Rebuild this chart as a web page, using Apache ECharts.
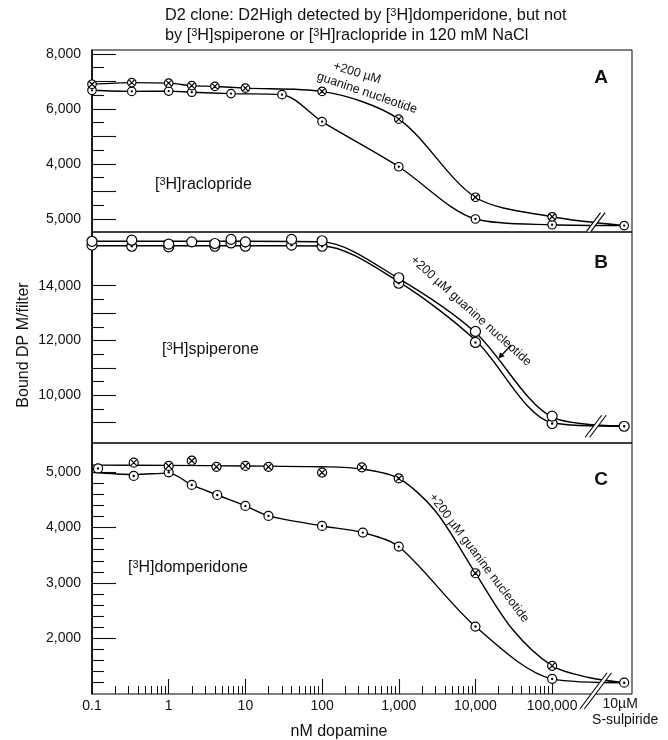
<!DOCTYPE html>
<html><head><meta charset="utf-8">
<script src="https://cdn.jsdelivr.net/npm/echarts@6/dist/echarts.min.js"></script>
<style>html,body{margin:0;padding:0;background:#fff}#c{width:668px;height:740px}</style>
</head><body><div id="c"></div>
<script>
const FONT = '"Liberation Sans", Arial, Helvetica, sans-serif';

// x position used for the "10 µM S-sulpiride" column (right of the axis break)
const SULP = 8.7e5;
const BREAK_X = 3.7e5;

// ---- Panel A: [3H]raclopride (measured points; curves drawn through them) ----
const aGuanX = [0.1, 0.33, 1, 2, 4, 10, 100, 1000, 10000, 100000];
const aGuanY = [6900, 6960, 6940, 6850, 6820, 6760, 6640, 5630, 2790, 2080];
const aCtrlX = [0.1, 0.33, 1, 2, 6.5, 30, 100, 1000, 10000, 100000, SULP];
const aCtrlY = [6680, 6640, 6650, 6610, 6560, 6520, 5540, 3900, 2000, 1790, 1760];

// ---- Panel B: [3H]spiperone ----
const bOpenX = [0.1, 0.33, 1, 2, 4, 6.5, 10, 40, 100, 1000, 10000, 100000];
const bOpenY = [15620, 15660, 15520, 15600, 15540, 15690, 15600, 15690, 15640, 14290, 12330, 9240];
const bDotX = [0.1, 0.33, 1, 4, 6.5, 10, 40, 100, 1000, 10000, 100000, SULP];
const bDotY = [15480, 15440, 15420, 15440, 15560, 15440, 15480, 15440, 14090, 11930, 8970, 8870];
// fitted curves as drawn in the figure
const bOpenFitX = [0.1, 1, 10, 100, 1000, 10000, 100000, SULP];
const bOpenFitY = [15620, 15620, 15620, 15600, 14260, 12290, 9200, 8880];
const bDotFitX = [0.1, 1, 10, 100, 1000, 10000, 100000, SULP];
const bDotFitY = [15460, 15460, 15460, 15450, 14140, 12010, 9000, 8870];

// ---- Panel C: [3H]domperidone ----
const cGuanX = [0.35, 1, 2, 4.2, 10, 20, 100, 330, 1000, 10000, 100000];
const cGuanY = [5175, 5115, 5210, 5100, 5115, 5100, 4995, 5090, 4890, 3175, 1500];
const cCtrlX = [0.12, 0.35, 1, 2, 4.3, 10, 20, 100, 340, 1000, 10000, 100000, SULP];
const cCtrlY = [5070, 4934, 5000, 4771, 4590, 4392, 4211, 4030, 3910, 3657, 2211, 1265, 1195];
// fitted curves as drawn in the figure
const cGuanFitX = [0.1, 1, 10, 100, 330, 1000, 3000, 10000, 30000, 100000, 300000, SULP];
const cGuanFitY = [5130, 5125, 5115, 5100, 5060, 4890, 4300, 3175, 2170, 1500, 1290, 1195];
const cCtrlFitX = [0.1, 0.35, 1, 2, 4.3, 10, 20, 100, 340, 1000, 10000, 100000, SULP];
const cCtrlFitY = [5000, 4960, 4985, 4771, 4590, 4392, 4211, 4030, 3910, 3657, 2211, 1265, 1195];

// ---- tick values / labels ----
const aMajorTicks = [2000, 3000, 4000, 5000, 6000, 7000, 8000];
const aMinorTicks = [2500, 3500, 4500, 5500, 6500, 7500];
const aLabelVals = [2000, 4000, 6000, 8000];
const aLabelText = ['5,000', '4,000', '6,000', '8,000']; // as printed in the figure

const bMajorTicks = [9000, 10000, 11000, 12000, 13000, 14000];
const bMinorTicks = [9500, 10500, 11500, 12500, 13500];
const bLabelVals = [10000, 12000, 14000];
const bLabelText = ['10,000', '12,000', '14,000'];

const cMajorTicks = [2000, 3000, 4000, 5000];
const cMinorTicks = [1200, 1400, 1600, 1800, 2200, 2400, 2600, 2800, 3200, 3400, 3600, 3800, 4200, 4400, 4600, 4800];
const cLabelVals = [2000, 3000, 4000, 5000];
const cLabelText = ['2,000', '3,000', '4,000', '5,000'];

const xMajorTicks = [1, 10, 100, 1000, 10000, 100000];
const xLabelVals = [0.1, 1, 10, 100, 1000, 10000, 100000];
const xLabelText = ['0.1', '1', '10', '100', '1,000', '10,000', '100,000'];
const xDecades = [0.1, 1, 10, 100, 1000, 10000];
const xMinorMult = [2, 3, 4, 5, 6, 7, 8, 9];
const xMinorTicks = [];
xDecades.forEach(d => xMinorMult.forEach(m => xMinorTicks.push(d * m)));

const SYM_X = 'path://M10,0A10,10,0,1,1,10,20A10,10,0,1,1,10,0ZM2.93,2.93L17.07,17.07M17.07,2.93L2.93,17.07';
const SYM_DOT = 'path://M10,0A10,10,0,1,1,10,20A10,10,0,1,1,10,0ZM10,8.7A1.3,1.3,0,1,1,10,11.3A1.3,1.3,0,1,1,10,8.7Z';

const grids = [
  {left: 92, top: 50, width: 540, height: 182},
  {left: 92, top: 232, width: 540, height: 211},
  {left: 92, top: 443, width: 540, height: 251}
];
const symSizes = [8.5, 10, 9];
const yRanges = [[1527, 8145], [8259, 15960], [991, 5530]];
const X_MIN = 0.1, X_MAX = 1.1e6;

function pick(vals, texts) {
  return v => {
    for (let i = 0; i < vals.length; i++) {
      if (Math.abs(vals[i] - v) < 1e-6 * Math.max(1, Math.abs(vals[i]))) return texts[i];
    }
    return '';
  };
}

function yAxesFor(gi, major, minor, labVals, labText) {
  const base = {
    type: 'value', gridIndex: gi, position: 'left',
    min: yRanges[gi][0], max: yRanges[gi][1],
    splitLine: {show: false}
  };
  return [
    Object.assign({}, base, {
      axisLine: {show: true, lineStyle: {color: '#000', width: 1.6}},
      axisTick: {show: true, inside: true, length: 24, customValues: major, lineStyle: {color: '#111', width: 1.1}},
      axisLabel: {show: true, customValues: labVals, formatter: pick(labVals, labText),
        fontSize: 14, fontFamily: FONT, color: '#111', margin: 11}
    }),
    Object.assign({}, base, {
      axisLine: {show: false},
      axisTick: {show: true, inside: true, length: 12, customValues: minor, lineStyle: {color: '#111', width: 1.1}},
      axisLabel: {show: false}
    })
  ];
}

const hiddenX = gi => ({
  type: 'log', logBase: 10, gridIndex: gi, min: X_MIN, max: X_MAX, position: 'bottom',
  axisLine: {show: false}, axisTick: {show: false}, axisLabel: {show: false}, splitLine: {show: false}
});

const xAxes = [
  hiddenX(0),
  hiddenX(1),
  Object.assign(hiddenX(2), {
    axisTick: {show: true, inside: true, length: 15, customValues: xMajorTicks, lineStyle: {color: '#111', width: 1.1}},
    axisLabel: {show: true, customValues: xLabelVals, formatter: pick(xLabelVals, xLabelText),
      fontSize: 14, fontFamily: FONT, color: '#111', margin: 5}
  }),
  Object.assign(hiddenX(2), {
    axisTick: {show: true, inside: true, length: 8, customValues: xMinorTicks, lineStyle: {color: '#111', width: 1}}
  })
];

const yAxes = [].concat(
  yAxesFor(0, aMajorTicks, aMinorTicks, aLabelVals, aLabelText),
  yAxesFor(1, bMajorTicks, bMinorTicks, bLabelVals, bLabelText),
  yAxesFor(2, cMajorTicks, cMinorTicks, cLabelVals, cLabelText)
);

function pts(xs, ys) { return xs.map((x, i) => [x, ys[i]]); }
const lastOf = a => a[a.length - 1];

function line(gi, data) {
  return {
    type: 'line', xAxisIndex: gi, yAxisIndex: gi * 2, data: data,
    smooth: 0.3, showSymbol: false, symbol: 'none', clip: false, z: 3, silent: true,
    lineStyle: {color: '#000', width: 1.4}, emphasis: {disabled: true}
  };
}
function marks(gi, data, symbol, z) {
  return {
    type: 'scatter', xAxisIndex: gi, yAxisIndex: gi * 2, data: data,
    symbol: symbol, symbolSize: symSizes[gi], clip: false, z: z, silent: true,
    itemStyle: {color: '#fff', borderColor: '#000', borderWidth: 1.2, opacity: 1},
    emphasis: {disabled: true}
  };
}

const series = [
  // panel A
  line(0, pts(aCtrlX, aCtrlY)),
  line(0, pts(aGuanX, aGuanY).concat([[SULP, lastOf(aCtrlY)]])),
  marks(0, pts(aCtrlX, aCtrlY), SYM_DOT, 5),
  marks(0, pts(aGuanX, aGuanY), SYM_X, 6),
  // panel B
  line(1, pts(bDotFitX, bDotFitY)),
  line(1, pts(bOpenFitX, bOpenFitY)),
  marks(1, pts(bDotX, bDotY), SYM_DOT, 5),
  marks(1, pts(bOpenX, bOpenY), 'circle', 6),
  // panel C
  line(2, pts(cCtrlFitX, cCtrlFitY)),
  line(2, pts(cGuanFitX, cGuanFitY)),
  marks(2, pts(cCtrlX, cCtrlY), SYM_DOT, 5),
  marks(2, pts(cGuanX, cGuanY), SYM_X, 6)
];

const SUP = {fontSize: 11, lineHeight: 12, padding: [0, 0, 7, 0], fontFamily: FONT, fill: '#111', color: '#111'};
const SUP16 = {fontSize: 11, lineHeight: 13, padding: [0, 0, 7, 0], fontFamily: FONT, fill: '#111', color: '#111'};

const option = {
  animation: false,
  backgroundColor: '#fff',
  textStyle: {fontFamily: FONT},
  title: {
    left: 165, top: 6, padding: 0,
    text: 'D2 clone: D2High detected by [{s|3}H]domperidone, but not\nby [{s|3}H]spiperone or [{s|3}H]raclopride in 120 mM NaCl',
    textStyle: {fontFamily: FONT, fontSize: 16.3, fontWeight: 'normal', color: '#111', lineHeight: 20,
      rich: {s: SUP}}
  },
  grid: grids.map(g => Object.assign({}, g, {show: true, borderColor: '#000', borderWidth: 1,
    backgroundColor: 'transparent', containLabel: false, outerBoundsMode: 'none'})),
  xAxis: xAxes,
  yAxis: yAxes,
  series: series
};

const chart = echarts.init(document.getElementById('c'), null, {renderer: 'canvas'});
chart.setOption(option);

// ---------- annotations ----------
function txt(x, y, text, size, opts) {
  opts = opts || {};
  return {
    type: 'text', x: x, y: y, rotation: opts.rot || 0, z: 100, silent: true,
    style: {
      text: text, fill: '#111', fontFamily: FONT, fontSize: size,
      fontWeight: opts.bold ? 'bold' : 'normal',
      align: opts.align || 'center', verticalAlign: opts.va || 'middle',
      textAlign: opts.align || 'center', textVerticalAlign: opts.va || 'middle',
      lineHeight: opts.lh, rich: opts.rich
    }
  };
}

function slashPair(cx, yTop, yBot) {
  const h = yBot - yTop, w = h * 0.75, gap = 4.5;
  const x0 = cx - w / 2 - gap / 2, x1 = cx + w / 2 - gap / 2;
  const els = [];
  els.push({type: 'polygon', z: 90, silent: true,
    shape: {points: [[x0, yBot], [x1, yTop], [x1 + gap, yTop], [x0 + gap, yBot]]},
    style: {fill: '#fff', stroke: null}});
  [0, gap].forEach(dx => els.push({type: 'line', z: 91, silent: true,
    shape: {x1: x0 + dx, y1: yBot, x2: x1 + dx, y2: yTop},
    style: {stroke: '#000', lineWidth: 1.1}}));
  return els;
}

const pA = chart.convertToPixel({xAxisIndex: 0, yAxisIndex: 0}, [BREAK_X, lastOf(aCtrlY)]);
const pB = chart.convertToPixel({xAxisIndex: 1, yAxisIndex: 2}, [BREAK_X, lastOf(bDotY)]);
const pC = chart.convertToPixel({xAxisIndex: 2, yAxisIndex: 4}, [BREAK_X, lastOf(cCtrlY)]);
const pS = chart.convertToPixel({xAxisIndex: 2, yAxisIndex: 4}, [SULP, lastOf(cCtrlY)]);
const cBottom = grids[2].top + grids[2].height;

const deg = Math.PI / 180;
const graphic = [].concat(
  slashPair(pA[0], pA[1] - 13, pA[1] + 6),
  slashPair(pB[0], pB[1] - 11, pB[1] + 11),
  slashPair(pC[0], pC[1] - 10, cBottom + 15),
  [
    txt(601, 78, 'A', 19, {bold: true}),
    txt(601, 263, 'B', 19, {bold: true}),
    txt(601, 480, 'C', 19, {bold: true}),
    txt(155, 185, '[{s|3}H]raclopride', 16, {align: 'left', rich: {s: SUP16}}),
    txt(162, 350, '[{s|3}H]spiperone', 16, {align: 'left', rich: {s: SUP16}}),
    txt(128, 568, '[{s|3}H]domperidone', 16, {align: 'left', rich: {s: SUP16}}),
    txt(357, 73, '+200 \u00b5M', 12.5, {rot: -17 * deg}),
    txt(367, 93, 'guanine nucleotide', 12.5, {rot: -19 * deg}),
    txt(471, 311, '+200 \u00b5M guanine nucleotide', 12.5, {rot: -42 * deg}),
    txt(479, 558, '+200 \u00b5M guanine nucleotide', 12.5, {rot: -53 * deg}),
    txt(24, 345, 'Bound DP M/filter', 16, {rot: 90 * deg}),
    txt(339, 732, 'nM dopamine', 16),
    txt(pS[0] - 4, 704, '10\u00b5M', 14),
    txt(pS[0] + 1, 720, 'S-sulpiride', 14),
    {type: 'line', z: 100, silent: true, shape: {x1: 511, y1: 345, x2: 501, y2: 356},
      style: {stroke: '#000', lineWidth: 1.2}},
    {type: 'polygon', z: 100, silent: true, shape: {points: [[498.5, 358.5], [504.6, 356.3], [500.1, 352.3]]},
      style: {fill: '#000'}}
  ]
);

chart.setOption({graphic: graphic});
</script>
</body></html>
